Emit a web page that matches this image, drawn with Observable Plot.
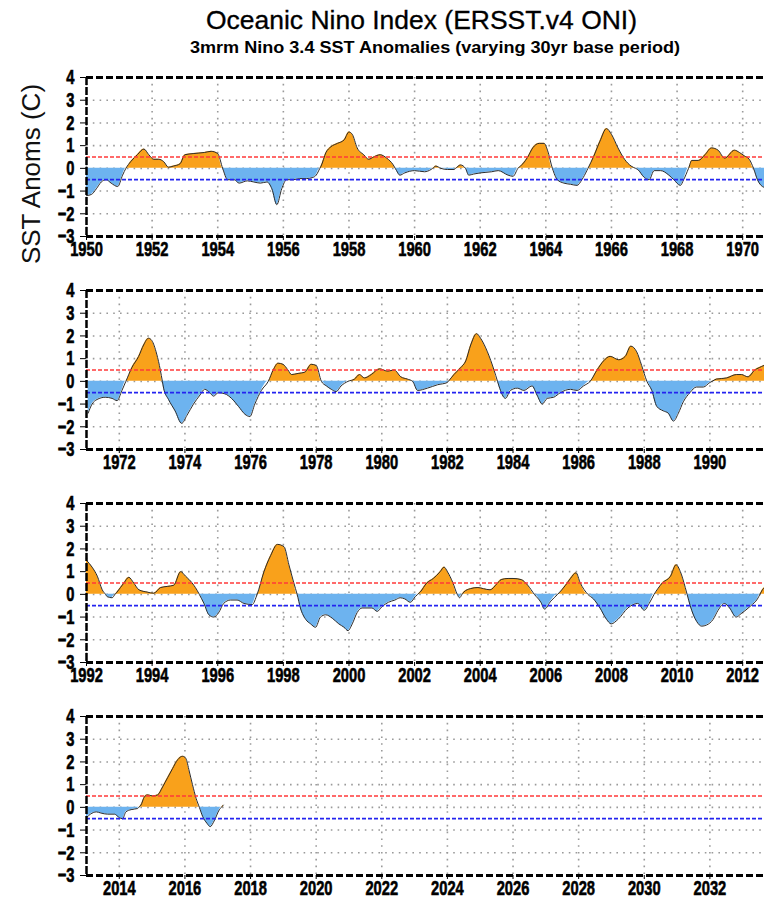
<!DOCTYPE html>
<html><head><meta charset="utf-8">
<script src="https://cdn.jsdelivr.net/npm/d3@7"></script>
<script src="https://cdn.jsdelivr.net/npm/@observablehq/plot@0.6"></script>
<style>
html,body{margin:0;padding:0;background:#fff;}
body{width:764px;height:898px;overflow:hidden;position:relative;}
#head{position:relative;height:67px;}
#title{position:absolute;left:421px;top:6px;white-space:nowrap;font-family:"Liberation Sans",Arial,sans-serif;font-size:25px;color:#000;transform-origin:0 0;-webkit-text-stroke:0.3px #000;}
#subtitle{position:absolute;left:435px;top:38px;white-space:nowrap;font-family:"Liberation Sans",Arial,sans-serif;font-weight:bold;font-size:17px;color:#000;transform-origin:0 0;}
#panels svg{display:block;overflow:visible;}
</style></head><body>
<div id="head"><div id="title">Oceanic Nino Index (ERSST.v4 ONI)</div><div id="subtitle">3mrm Nino 3.4 SST Anomalies (varying 30yr base period)</div></div>
<div id="panels"></div>
<script>
// ---- tick labels ----
const xTicks1 = [1950,1952,1954,1956,1958,1960,1962,1964,1966,1968,1970];
const xTicks2 = [1972,1974,1976,1978,1980,1982,1984,1986,1988,1990];
const xTicks3 = [1992,1994,1996,1998,2000,2002,2004,2006,2008,2010,2012];
const xTicks4 = [2014,2016,2018,2020,2022,2024,2026,2028,2030,2032];
const yTicks = [-3,-2,-1,0,1,2,3,4];
const yGrid = [-2,-1,0,1,2,3];
const elNinoThreshold = 0.5;
const laNinaThreshold = -0.5;

// ---- series (decimal year, anomaly in C) ----
const t1 = [1950.0,1950.15,1950.3,1950.45,1950.6,1950.75,1950.95,1951.1,1951.2,1951.35,1951.55,1951.75,1951.9,1952.05,1952.2,1952.35,1952.5,1952.65,1952.85,1953.0,1953.25,1953.6,1953.8,1954.0,1954.15,1954.3,1954.5,1954.65,1954.9,1955.1,1955.3,1955.5,1955.65,1955.8,1955.95,1956.1,1956.3,1956.5,1956.7,1956.9,1957.0,1957.15,1957.3,1957.45,1957.65,1957.85,1958.0,1958.1,1958.25,1958.45,1958.6,1958.75,1958.95,1959.15,1959.35,1959.45,1959.55,1959.7,1960.0,1960.3,1960.5,1960.65,1960.8,1961.0,1961.2,1961.4,1961.55,1961.65,1961.8,1962.0,1962.35,1962.55,1962.85,1963.0,1963.15,1963.3,1963.45,1963.6,1963.8,1963.95,1964.05,1964.2,1964.35,1964.55,1964.75,1964.95,1965.1,1965.25,1965.45,1965.65,1965.85,1966.0,1966.2,1966.4,1966.6,1966.8,1967.0,1967.15,1967.3,1967.5,1967.75,1967.9,1968.1,1968.2,1968.35,1968.45,1968.65,1968.85,1969.05,1969.25,1969.45,1969.75,1969.9,1970.05,1970.2,1970.33,1970.45,1970.6,1970.8,1971.0];
const v1 = [-1.2,-1.15,-0.9,-0.6,-0.5,-0.65,-0.8,-0.3,0.0,0.3,0.6,0.85,0.6,0.4,0.4,0.3,0.05,0.1,0.2,0.6,0.65,0.7,0.75,0.65,0.0,-0.5,-0.5,-0.65,-0.55,-0.6,-0.65,-0.6,-0.9,-1.6,-0.9,-0.5,-0.5,-0.45,-0.45,-0.4,-0.3,0.1,0.7,0.95,1.1,1.25,1.6,1.5,0.9,0.6,0.4,0.5,0.6,0.45,0.15,-0.1,-0.3,-0.2,-0.1,-0.15,-0.05,0.1,0.0,-0.05,-0.05,0.15,0.0,-0.3,-0.25,-0.2,-0.15,-0.1,-0.3,-0.35,0.0,0.2,0.5,0.9,1.1,1.1,0.8,0.0,-0.5,-0.65,-0.7,-0.75,-0.5,-0.1,0.5,1.2,1.75,1.5,0.9,0.4,0.1,-0.05,-0.4,-0.5,-0.1,-0.1,-0.3,-0.5,-0.75,-0.5,0.0,0.35,0.35,0.6,0.9,0.8,0.45,0.8,0.7,0.55,0.4,0.0,-0.5,-0.8,-0.9,-1.3];

const t2 = [1971.05,1971.17,1971.32,1971.57,1971.78,1971.93,1972.08,1972.2,1972.38,1972.59,1972.74,1972.89,1972.99,1973.14,1973.25,1973.35,1973.5,1973.7,1973.9,1974.06,1974.26,1974.46,1974.6,1974.76,1974.87,1975.02,1975.22,1975.42,1975.63,1975.83,1975.98,1976.13,1976.33,1976.54,1976.69,1976.84,1976.99,1977.14,1977.25,1977.45,1977.65,1977.85,1978.0,1978.16,1978.31,1978.46,1978.61,1978.76,1978.97,1979.17,1979.32,1979.47,1979.68,1979.93,1980.18,1980.38,1980.58,1980.78,1980.94,1981.09,1981.39,1981.7,1982.0,1982.2,1982.4,1982.56,1982.71,1982.89,1983.01,1983.22,1983.42,1983.57,1983.77,1983.92,1984.13,1984.33,1984.58,1984.73,1984.89,1985.04,1985.24,1985.44,1985.75,1985.95,1986.15,1986.35,1986.56,1986.76,1986.96,1987.22,1987.42,1987.59,1987.77,1987.92,1988.08,1988.23,1988.38,1988.58,1988.73,1988.89,1989.04,1989.19,1989.39,1989.59,1989.8,1990.0,1990.2,1990.51,1990.81,1990.96,1991.16,1991.37,1991.57,1991.75,1991.9,1992.0];
const v2 = [-1.4,-1.0,-0.8,-0.7,-0.75,-0.85,-0.4,0.0,0.6,1.1,1.6,1.9,1.8,1.2,0.5,-0.3,-0.8,-1.3,-1.85,-1.5,-1.0,-0.6,-0.35,-0.5,-0.65,-0.5,-0.55,-0.75,-1.1,-1.45,-1.55,-1.0,-0.4,0.0,0.5,0.8,0.75,0.5,0.3,0.35,0.4,0.75,0.7,0.0,-0.2,-0.35,-0.45,-0.2,0.0,0.1,0.3,0.15,0.3,0.55,0.45,0.5,0.2,0.1,0.0,-0.4,-0.3,-0.15,-0.05,0.3,0.6,0.9,1.6,2.1,1.9,1.3,0.5,-0.2,-0.75,-0.4,-0.3,-0.4,-0.2,-0.6,-1.0,-0.75,-0.7,-0.5,-0.35,-0.4,-0.2,0.0,0.5,0.9,1.1,0.95,1.1,1.55,1.3,0.7,0.0,-0.4,-1.1,-1.3,-1.4,-1.75,-1.4,-0.9,-0.5,-0.25,-0.25,-0.05,0.1,0.15,0.3,0.3,0.2,0.5,0.65,0.8,1.2,1.5];

const t3 = [1992.0,1992.17,1992.33,1992.48,1992.63,1992.78,1992.93,1993.14,1993.29,1993.44,1993.6,1993.85,1994.05,1994.26,1994.46,1994.66,1994.87,1995.02,1995.22,1995.42,1995.58,1995.73,1995.88,1996.03,1996.18,1996.39,1996.59,1996.8,1997.05,1997.2,1997.41,1997.61,1997.82,1998.02,1998.17,1998.32,1998.42,1998.52,1998.68,1998.83,1998.98,1999.13,1999.29,1999.49,1999.69,1999.85,1999.97,2000.1,2000.25,2000.4,2000.55,2000.7,2000.86,2001.0,2001.2,2001.4,2001.56,2001.7,2001.87,2002.02,2002.17,2002.37,2002.57,2002.78,2002.9,2003.0,2003.17,2003.3,2003.37,2003.5,2003.7,2003.93,2004.1,2004.3,2004.5,2004.64,2004.85,2005.0,2005.25,2005.45,2005.65,2005.85,2005.96,2006.15,2006.36,2006.6,2006.75,2006.92,2007.05,2007.28,2007.45,2007.65,2007.85,2007.99,2008.2,2008.5,2008.8,2009.0,2009.15,2009.3,2009.55,2009.8,2009.97,2010.1,2010.25,2010.4,2010.6,2010.75,2010.9,2011.1,2011.25,2011.44,2011.6,2011.8,2011.95,2012.25,2012.45,2012.6,2012.75,2012.85,2013.0];
const v3 = [1.5,1.2,0.8,0.2,-0.1,-0.15,0.1,0.5,0.75,0.5,0.2,0.1,0.05,0.3,0.35,0.4,1.0,0.8,0.5,0.05,-0.4,-0.9,-1.0,-0.8,-0.4,-0.25,-0.25,-0.4,-0.45,0.0,1.0,1.7,2.2,2.1,1.3,0.5,0.0,-0.6,-1.1,-1.3,-1.45,-1.0,-0.9,-1.05,-1.3,-1.45,-1.6,-1.3,-0.8,-0.6,-0.6,-0.6,-0.75,-0.55,-0.35,-0.25,-0.15,-0.2,-0.35,-0.1,0.1,0.5,0.7,1.0,1.2,1.0,0.5,0.0,-0.15,0.1,0.25,0.3,0.25,0.2,0.45,0.65,0.7,0.7,0.65,0.4,0.0,-0.35,-0.65,-0.3,0.0,0.4,0.7,0.95,0.5,0.0,-0.2,-0.6,-1.1,-1.3,-1.1,-0.6,-0.4,-0.7,-0.4,0.0,0.5,0.8,1.3,1.0,0.3,-0.5,-1.2,-1.4,-1.35,-1.1,-0.7,-0.4,-0.6,-1.0,-0.85,-0.5,-0.2,0.2,0.35,0.3,-0.3];

const t4 = [2013.0,2013.12,2013.3,2013.44,2013.64,2013.85,2014.0,2014.1,2014.2,2014.36,2014.56,2014.66,2014.76,2014.86,2015.02,2015.17,2015.32,2015.47,2015.62,2015.78,2015.93,2016.03,2016.13,2016.23,2016.34,2016.44,2016.54,2016.67,2016.77,2016.89,2017.05,2017.17];
const v4 = [-0.45,-0.3,-0.2,-0.25,-0.3,-0.3,-0.45,-0.5,-0.2,-0.1,-0.05,0.1,0.45,0.55,0.5,0.55,0.9,1.3,1.7,2.1,2.25,2.15,1.6,1.0,0.4,0.0,-0.4,-0.7,-0.85,-0.6,-0.1,0.1];

const panelDefs = [
  {domain:[1950,1971], ticks:xTicks1, t:t1, v:v1},
  {domain:[1971,1992], ticks:xTicks2, t:t2, v:v2},
  {domain:[1992,2013], ticks:xTicks3, t:t3, v:v3},
  {domain:[2013,2034], ticks:xTicks4, t:t4, v:v4}
];

// insert zero crossings so the two fills meet the curve at zero
function augment(t, v) {
  const out = [];
  for (let i = 0; i < t.length; i++) {
    if (i > 0) {
      const a = v[i-1], b = v[i];
      if ((a < 0 && b > 0) || (a > 0 && b < 0)) {
        const f = a / (a - b);
        out.push({t: t[i-1] + f * (t[i] - t[i-1]), v: 0});
      }
    }
    out.push({t: t[i], v: v[i]});
  }
  return out;
}

// fit a header text to a measured target width, centred on cx
function fitText(id, cx, targetWidth) {
  const el = document.getElementById(id);
  const w = el.getBoundingClientRect().width;
  const s = targetWidth / w;
  el.style.left = (cx - targetWidth / 2) + "px";
  el.style.transform = `scaleX(${s})`;
}
fitText("title", 421, 431);
fitText("subtitle", 435, 490);

const tickFont = '"Liberation Sans",Arial,sans-serif';
const gridStyle = {stroke:"#9a9a9a", strokeWidth:1.6, strokeDasharray:"1.6,5.2"};
const container = document.getElementById("panels");

panelDefs.forEach((p, i) => {
  const data = augment(p.t, p.v);
  const last = i === panelDefs.length - 1;
  const marks = [
    Plot.ruleY(yGrid, gridStyle),
    Plot.ruleX(p.ticks, gridStyle),
    Plot.areaY(data, {x:"t", y1:0, y2:d => Math.max(d.v, 0), fill:"#f9a11b", curve:"monotone-x"}),
    Plot.areaY(data, {x:"t", y1:0, y2:d => Math.min(d.v, 0), fill:"#6db3ef", curve:"monotone-x"}),
    Plot.line(data, {x:"t", y:"v", stroke:"#2b2b2b", strokeWidth:1, curve:"monotone-x"}),
    Plot.ruleY([elNinoThreshold], {stroke:"#ff3a3a", strokeWidth:1.5, strokeDasharray:"4,2"}),
    Plot.ruleY([laNinaThreshold], {stroke:"#2424f0", strokeWidth:1.8, strokeDasharray:"4,2"}),
    Plot.ruleY([yTicks[yTicks.length-1], yTicks[0]], {stroke:"#000", strokeWidth:3, strokeDasharray:"7,3"}),
    Plot.ruleX([p.domain[0], p.domain[1]], {stroke:"#000", strokeWidth:2.5, strokeDasharray:"8,2"})
  ];
  if (i === 0) {
    marks.push(Plot.text(["SST Anoms (C)"], {text:d => d, frameAnchor:"left", textAnchor:"middle", dx:-55, dy:17, rotate:-90,
      fontSize:26, fontWeight:"normal", fontFamily:'"Liberation Sans",Arial,sans-serif', fill:"#111"}));
  }
  const chart = Plot.plot({
    width: 790,
    height: last ? 192 : 213,
    marginLeft: 86,
    marginRight: 15,
    marginTop: 10,
    marginBottom: last ? 23 : 44,
    style: {fontFamily: tickFont, fontSize: "21px", fontWeight: "bold", background: "transparent", maxWidth: "none", color: "#000", overflow: "visible"},
    x: {domain: p.domain, ticks: p.ticks, tickFormat: d => String(d), tickSize: 4, tickPadding: 1, label: null},
    y: {domain: [yTicks[0], yTicks[yTicks.length-1]], ticks: yTicks, tickFormat: d3.format("d"), tickSize: 6, tickPadding: 6, label: null},
    marks
  });
  container.appendChild(chart);
  // condensed, heavy look of the tick labels
  chart.querySelectorAll('g[aria-label="x-axis tick label"] text, g[aria-label="y-axis tick label"] text').forEach(el => {
    const w = el.getComputedTextLength();
    el.setAttribute("textLength", (w * 0.7).toFixed(1));
    el.setAttribute("lengthAdjust", "spacingAndGlyphs");
    el.style.stroke = "#000";
    el.style.strokeWidth = "0.6px";
  });
});
</script>
</body></html>
